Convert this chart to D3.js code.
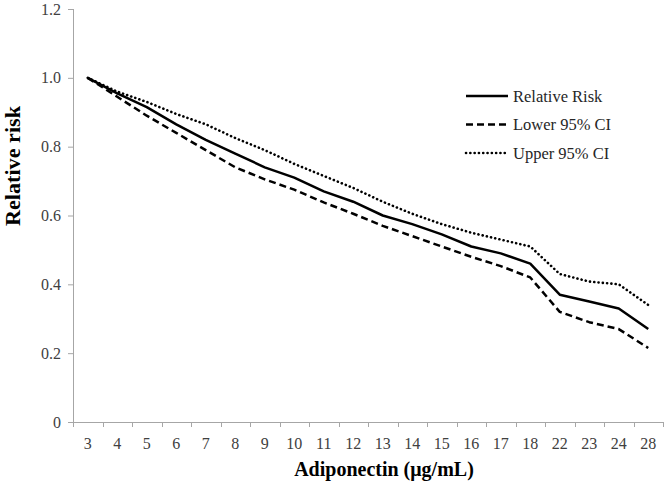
<!DOCTYPE html>
<html><head><meta charset="utf-8">
<script src="https://cdn.jsdelivr.net/npm/d3@7"></script>
<style>body{margin:0;background:#fff}</style>
</head><body><svg id="c" width="666" height="483"></svg>
<script>
const categories = ["3","4","5","6","7","8","9","10","11","12","13","14","15","16","17","18","22","23","24","28"];
const relativeRisk = [1.00,0.955,0.915,0.865,0.82,0.78,0.74,0.71,0.67,0.64,0.60,0.575,0.545,0.51,0.49,0.46,0.37,0.35,0.33,0.27];
const lowerCI = [1.00,0.945,0.89,0.84,0.79,0.74,0.705,0.675,0.638,0.605,0.57,0.54,0.51,0.48,0.453,0.42,0.32,0.29,0.27,0.215];
const upperCI = [1.00,0.96,0.93,0.895,0.865,0.825,0.79,0.75,0.715,0.68,0.64,0.605,0.575,0.55,0.53,0.51,0.43,0.408,0.40,0.34];
const yTicks = [0,0.2,0.4,0.6,0.8,1.0,1.2];

const svg = d3.select("#c");
const L=73, R=663, T=9, B=422;
const x = d3.scaleBand().domain(categories).range([L,R]);
const y = d3.scaleLinear().domain([0,1.2]).range([B,T]);
const axisColor="#a6a6a6", font="'Liberation Serif','Times New Roman',serif";

const xa = svg.append("g").attr("transform",`translate(0,${B})`)
  .call(d3.axisBottom(x).tickSize(0).tickPadding(16));
xa.select(".domain").attr("stroke",axisColor).attr("d",`M${L},0.5H${R}`);
xa.selectAll("text").attr("font-family",font).attr("font-size",16).attr("fill","#404040");
const bounds = categories.map(c=>x(c)).concat([R]);
xa.selectAll(".btick").data(bounds).enter().append("line")
  .attr("x1",d=>Math.round(d)+0.5).attr("x2",d=>Math.round(d)+0.5).attr("y1",0).attr("y2",5).attr("stroke",axisColor);

const ya = svg.append("g").attr("transform",`translate(${L},0)`)
  .call(d3.axisLeft(y).tickValues(yTicks).tickSize(5).tickPadding(7)
    .tickFormat(d=>d===0?"0":d3.format(".1f")(d)));
ya.select(".domain").attr("stroke",axisColor).attr("d",`M0.5,${T}V${B}`);
ya.selectAll(".tick line").attr("stroke",axisColor);
ya.selectAll("text").attr("font-family",font).attr("font-size",16).attr("fill","#404040");

const line = vals => d3.line().x((d,i)=>x(categories[i])+x.bandwidth()/2).y(d=>y(d))(vals);
const series = [
  {name:"Relative Risk", vals:relativeRisk, dash:null, w:2.5, cap:"butt"},
  {name:"Lower 95% CI", vals:lowerCI, dash:"7,4", w:2.5, cap:"butt"},
  {name:"Upper 95% CI", vals:upperCI, dash:"0.1,4.2", w:2.6, cap:"round"}
];
series.forEach(s=>{
  svg.append("path").attr("d",line(s.vals)).attr("fill","none").attr("stroke","#000")
    .attr("stroke-width",s.w).attr("stroke-dasharray",s.dash).attr("stroke-linecap",s.cap)
    .attr("stroke-linejoin","round");
});

const lg = svg.append("g");
series.forEach((s,i)=>{
  const yy = 96 + i*28.5;
  lg.append("line").attr("x1",466).attr("x2",508).attr("y1",yy).attr("y2",yy)
    .attr("stroke","#000").attr("stroke-width",s.w).attr("stroke-dasharray",s.dash).attr("stroke-linecap",s.cap);
  lg.append("text").attr("x",513).attr("y",yy).attr("dy","0.35em")
    .attr("font-family",font).attr("font-size",16.5).attr("fill","#262626").text(s.name);
});

svg.append("text").attr("x",384).attr("y",476).attr("text-anchor","middle")
  .attr("font-family",font).attr("font-size",20).attr("font-weight","bold").text("Adiponectin (μg/mL)");
svg.append("text").attr("transform",`translate(20,166) rotate(-90)`).attr("text-anchor","middle")
  .attr("font-family",font).attr("font-size",20.5).attr("font-weight","bold")
  .attr("textLength",120).attr("lengthAdjust","spacingAndGlyphs").text("Relative risk");
</script></body></html>
